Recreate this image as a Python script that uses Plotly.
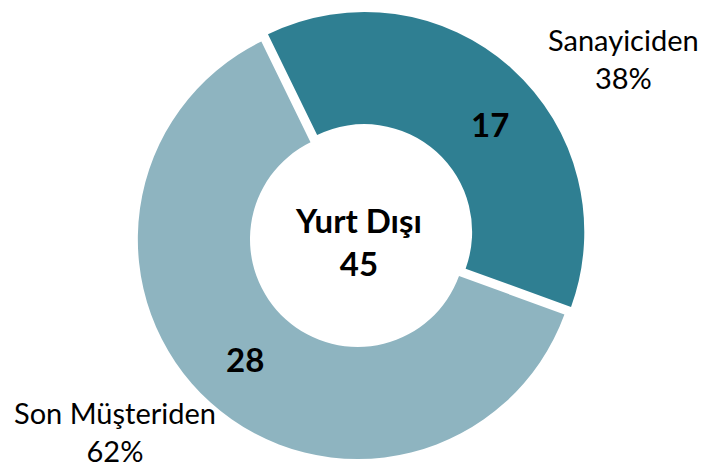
import plotly.graph_objects as go

# data
labels = ['Sanayiciden', 'Son Müşteriden']
values = [17, 28]
percents = ['38%', '62%']
center_label = 'Yurt Dışı'
total = sum(values)

colors = ['#2F7F92', '#8EB4C0']
font_family = 'Lato, Carlito, Calibri, sans-serif'

fig = go.Figure()

fig.add_trace(go.Pie(
    labels=labels,
    values=values,
    hole=0.49,
    sort=False,
    direction='clockwise',
    rotation=-26,
    pull=[0.045, 0],
    marker=dict(colors=colors, line=dict(width=0)),
    textinfo='none',
    hoverinfo='label+value+percent',
    showlegend=False,
    domain=dict(x=[0.163, 0.828], y=[0, 0.98]),
))

# value labels on the slices
value_pos = [(0.679, 0.736), (0.339, 0.235)]
for v, (x, y) in zip(values, value_pos):
    fig.add_annotation(
        x=x, y=y, xref='paper', yref='paper',
        xanchor='center', yanchor='middle',
        text=f'<b>{v}</b>',
        showarrow=False,
        font=dict(family=font_family, size=33, color='black'),
    )

# centre label
fig.add_annotation(
    x=0.4965, y=0.485, xref='paper', yref='paper',
    xanchor='center', yanchor='middle',
    text=f'<b>{center_label}<br>{total}</b>',
    showarrow=False,
    font=dict(family=font_family, size=33, color='black'),
)

# outside category labels
label_pos = [(0.864, 0.876), (0.1593, 0.079)]
for lab, pct, (x, y) in zip(labels, percents, label_pos):
    fig.add_annotation(
        x=x, y=y, xref='paper', yref='paper',
        xanchor='center', yanchor='middle',
        text=f'{lab}<br>{pct}',
        showarrow=False,
        font=dict(family=font_family, size=29, color='black'),
    )

fig.update_layout(
    width=722,
    height=469,
    margin=dict(l=0, r=0, t=0, b=0),
    paper_bgcolor='white',
    plot_bgcolor='white',
)

fig.write_html('out.html', config={'displayModeBar': False},
               post_script="document.body.style.margin='0';")
